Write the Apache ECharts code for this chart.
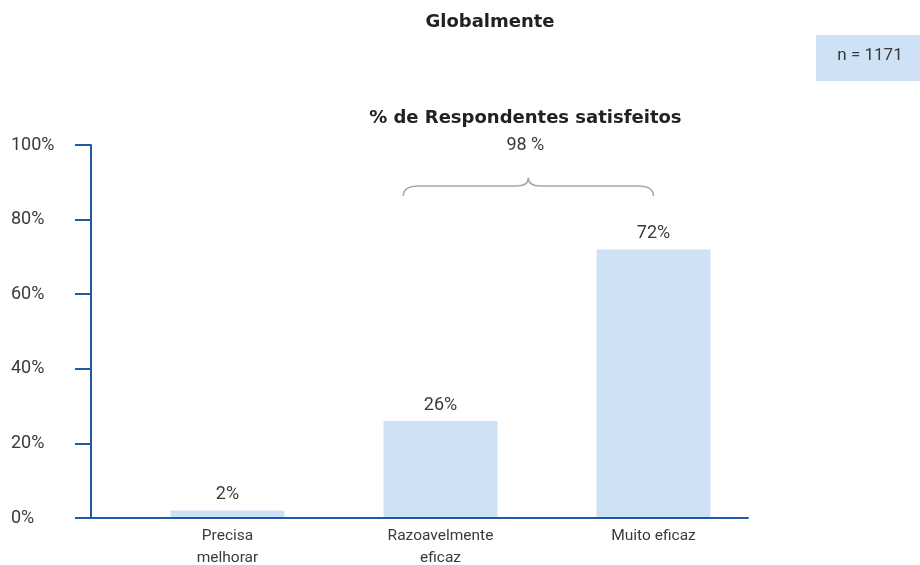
<!DOCTYPE html>
<html>
<head>
<meta charset="utf-8">
<script src="https://cdn.jsdelivr.net/npm/echarts@6/dist/echarts.min.js"></script>
<style>html,body{margin:0;padding:0;background:#fff}#c{width:920px;height:565px}</style>
</head>
<body>
<div id="c"></div>
<script>
const categories = ['Precisa\nmelhorar', 'Razoavelmente\neficaz', 'Muito eficaz'];
const values = [2, 26, 72];
const yTicks = [0, 20, 40, 60, 80, 100];
const satisfiedLabel = '98 %';
const chartTitle = 'Globalmente';
const subTitle = '% de Respondentes satisfeitos';
const sampleText = 'n = 1171';

const axisColor = '#1f5ba3';
const barColor = '#cfe1f5';
const txt = '#3a3a3a';
const font = 'Roboto';

const chart = echarts.init(document.getElementById('c'), null, {renderer: 'canvas'});
const option = {
  animation: false,
  backgroundColor: '#fff',
  title: {
    text: chartTitle, left: 485, top: 8, textAlign: 'center',
    textStyle: {fontFamily: 'DejaVu Sans', fontWeight: 'bold', fontSize: 18, color: '#222'}
  },
  grid: [
    {left: 121, width: 639, top: 145, height: 373, outerBoundsMode: 'none', containLabel: false},
    {left: 91, width: 657, top: 145, height: 373, outerBoundsMode: 'none', containLabel: false}
  ],
  xAxis: [
    {type: 'category', gridIndex: 0, data: categories,
     axisLine: {show: false}, axisTick: {show: false},
     axisLabel: {margin: 7, fontFamily: font, fontSize: 15.5, color: txt, lineHeight: 22}},
    {type: 'value', gridIndex: 1, min: 0, max: 1, z: 5,
     axisLine: {show: true, lineStyle: {color: axisColor, width: 2}},
     axisTick: {show: false}, axisLabel: {show: false}, splitLine: {show: false}}
  ],
  yAxis: [
    {type: 'value', gridIndex: 0, min: 0, max: 100, show: false},
    {type: 'value', gridIndex: 1, min: 0, max: 100, interval: 20, z: 5,
     axisLine: {show: true, lineStyle: {color: axisColor, width: 2}},
     axisTick: {show: true, inside: false, length: 16, lineStyle: {color: axisColor, width: 2}},
     axisLabel: {margin: 80, align: 'left', fontFamily: font, fontSize: 18, color: txt,
       formatter: v => yTicks.includes(v) ? v + '%' : ''},
     splitLine: {show: false}}
  ],
  series: [{
    type: 'bar', xAxisIndex: 0, yAxisIndex: 0, data: values, barWidth: 114,
    itemStyle: {color: barColor},
    label: {show: true, position: 'top', distance: 7, formatter: '{c}%',
      fontFamily: font, fontSize: 18, color: txt}
  }]
};
chart.setOption(option);

function drawBrace() {
  const c1 = chart.convertToPixel({xAxisIndex: 0, yAxisIndex: 0}, [1, 0]);
  const c2 = chart.convertToPixel({xAxisIndex: 0, yAxisIndex: 0}, [2, 0]);
  const d = c2[0] - c1[0];
  const L = c1[0] - 0.175 * d;
  const R = c2[0];
  const yH = chart.convertToPixel({yAxisIndex: 0}, 89);
  const yEnd = yH + 10, yTip = yH - 8;
  const M = (L + R) / 2;
  const st = {stroke: '#a6a6a6', lineWidth: 1.5, fill: 'none'};
  const els = [
    {type: 'bezierCurve', shape: {x1: L, y1: yEnd, cpx1: L, cpy1: yH, x2: L + 16, y2: yH}, style: st},
    {type: 'line', shape: {x1: L + 16, y1: yH, x2: M - 12, y2: yH}, style: st},
    {type: 'bezierCurve', shape: {x1: M - 12, y1: yH, cpx1: M, cpy1: yH, x2: M, y2: yTip}, style: st},
    {type: 'bezierCurve', shape: {x1: M, y1: yTip, cpx1: M, cpy1: yH, x2: M + 12, y2: yH}, style: st},
    {type: 'line', shape: {x1: M + 12, y1: yH, x2: R - 16, y2: yH}, style: st},
    {type: 'bezierCurve', shape: {x1: R - 16, y1: yH, cpx1: R, cpy1: yH, x2: R, y2: yEnd}, style: st},
    {type: 'text', x: M - 3, y: yTip - 33, style: {text: satisfiedLabel, textAlign: 'center', textVerticalAlign: 'middle',
      font: '18px Roboto', fill: txt}},
    {type: 'text', x: M - 3, y: yTip - 60, style: {text: subTitle, textAlign: 'center', textVerticalAlign: 'middle',
      font: 'bold 18px "DejaVu Sans"', fill: '#222'}},
    {type: 'rect', shape: {x: 816, y: 35, width: 104, height: 46}, style: {fill: barColor}},
    {type: 'text', x: 870, y: 56, style: {text: sampleText, textAlign: 'center', textVerticalAlign: 'middle',
      font: '17px Roboto', fill: txt}}
  ];
  chart.setOption({graphic: {elements: els}});
}
drawBrace();
</script>
</body>
</html>
